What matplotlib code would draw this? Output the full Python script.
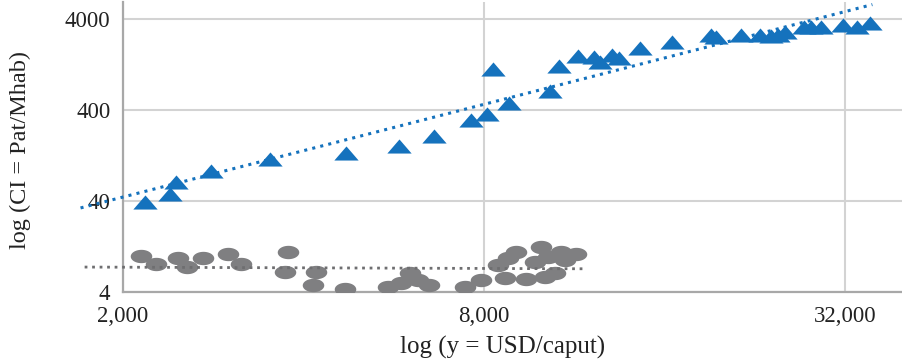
import numpy as np
from matplotlib import pyplot as plt, ticker as plticker
from matplotlib.path import Path

# Blue triangles: innovation countries
blue_x = [2179, 2398, 2454, 2808, 3521, 4714, 5778, 6610, 7620, 8102, 8292, 8816,
          10320, 10682, 11492, 12218, 12504, 13092, 13452, 14580, 16486, 19148, 19520,
          21490, 23120, 24120, 24770, 25440, 27370, 28110, 29220, 31800, 33550, 35260]
blue_y = [39, 47.8, 64.7, 85.4, 115.8, 134.8, 160.9, 207, 310, 362, 1128, 478,
          647, 1218, 1568, 1528, 1347, 1608, 1490, 1920, 2235, 2668, 2536,
          2668, 2668, 2600, 2668, 2878, 3266, 3266, 3266, 3436, 3266, 3615]

# Grey ellipses
grey_x = [2146, 2273, 2473, 2560, 2722, 2996, 3150, 3773, 3730, 4202, 4153, 4697,
          5540, 5823, 6029, 6216, 6484, 7447, 7918, 8451, 8784, 9056, 8682, 9412,
          9970, 9742, 10124, 10520, 10766, 10242, 11404, 10932]
grey_y = [10.0, 8.1, 9.46, 7.5, 9.46, 10.5, 8.1, 11.0, 6.6, 6.6, 4.8, 4.3,
          4.5, 5.0, 6.5, 5.4, 4.8, 4.5, 5.4, 7.9, 9.46, 11.0, 5.7, 5.56,
          12.5, 8.5, 5.85, 6.5, 11.0, 9.7, 10.5, 9.0]

x_ticks = [2000, 8000, 32000]
y_ticks = [4, 40, 400, 4000]

BLUE = "#1572bd"
GREY = "#7f7f81"

# wide triangle and ellipse marker shapes, like the spreadsheet ones
tri = Path([(0, 0.58), (-1, -0.58), (1, -0.58), (0, 0.58)],
           [Path.MOVETO, Path.LINETO, Path.LINETO, Path.CLOSEPOLY])
t = np.linspace(0, 2 * np.pi, 60)
ell = Path(np.column_stack([np.cos(t), 0.62 * np.sin(t)]))


def power_trend(x, y, back):
    lx, ly = np.log10(x), np.log10(y)
    b, a = np.polyfit(lx, ly, 1)
    xs = np.array([min(x) - back, max(x) + 300])
    return xs, 10 ** (a + b * np.log10(xs))


def draw_plot():
    plt.rcParams["font.family"] = ["Liberation Serif", "DejaVu Serif"]
    fig = plt.figure(figsize=(9.03, 3.63), dpi=100)
    ax = fig.add_axes([123 / 903, 1 - 292 / 363, 1 - 123 / 903, 290 / 363])
    ax.set_xscale("log")
    ax.set_yscale("log")
    ax.set_xlim(2000, 40000)
    ax.set_ylim(4, 4 * 10 ** (290 / 91))

    ax.xaxis.set_major_locator(plticker.FixedLocator(x_ticks))
    ax.xaxis.set_minor_locator(plticker.NullLocator())
    ax.xaxis.set_major_formatter(plticker.FuncFormatter(lambda v, p: f"{v:,.0f}"))
    ax.yaxis.set_major_locator(plticker.FixedLocator(y_ticks))
    ax.yaxis.set_minor_locator(plticker.NullLocator())
    ax.yaxis.set_major_formatter(plticker.FuncFormatter(lambda v, p: f"{v:.0f}"))
    ax.tick_params(length=0, labelsize=16.5, colors="#222222")
    ax.tick_params(axis="x", pad=10)
    ax.tick_params(axis="y", pad=9)

    ax.grid(True, color="#d3d3d3", linewidth=1.5)
    ax.set_axisbelow(True)
    for s in ["top", "right"]:
        ax.spines[s].set_visible(False)
    for s in ["left", "bottom"]:
        ax.spines[s].set_color("#a8a8a8")
        ax.spines[s].set_linewidth(1.6)

    ax.plot(blue_x, blue_y, linestyle="none", marker=tri, markersize=17.5,
            color=BLUE, markeredgewidth=0, zorder=3)
    ax.plot(grey_x, grey_y, linestyle="none", marker=ell, markersize=15.5,
            color=GREY, markeredgewidth=0, zorder=3)

    bx, by = power_trend(blue_x, blue_y, 480)
    gx, gy = power_trend(grey_x, grey_y, 420)
    ax.plot(bx, by, linestyle=(0, (1, 1.7)), color=BLUE, linewidth=2.2,
            clip_on=False, zorder=4)
    ax.plot(gx, gy, linestyle=(0, (1, 1.7)), color="#6e6e70", linewidth=2.0,
            clip_on=False, zorder=4)

    ax.set_xlabel("log (y = USD/caput)", fontsize=18, color="#222222")
    ax.set_ylabel("log (CI = Pat/Mhab)", fontsize=17.5, color="#222222")
    ax.xaxis.set_label_coords(0.487, -0.15)
    ax.yaxis.set_label_coords(-0.118, 0.49)
    return fig


def save_plot():
    fig = draw_plot()
    fig.savefig("out.png", dpi=100)


if __name__ == "__main__":
    save_plot()
